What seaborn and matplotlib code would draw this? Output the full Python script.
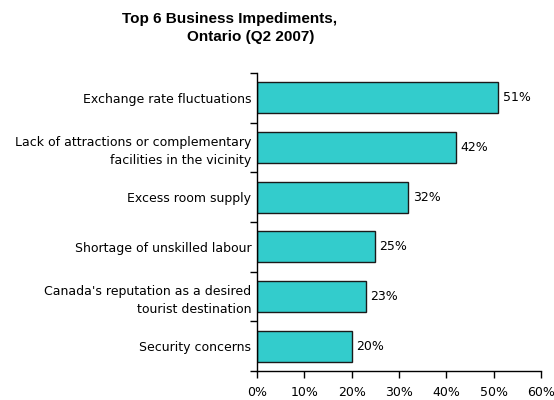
import matplotlib
matplotlib.use("Agg")
import matplotlib.pyplot as plt
import seaborn as sns
import pandas as pd
import numpy as np

categories = [
    "Exchange rate fluctuations",
    "Lack of attractions or complementary\nfacilities in the vicinity",
    "Excess room supply",
    "Shortage of unskilled labour",
    "Canada's reputation as a desired\ntourist destination",
    "Security concerns",
]
values = [51, 42, 32, 25, 23, 20]
xticks = [0, 10, 20, 30, 40, 50, 60]
xtick_labels = ["0%", "10%", "20%", "30%", "40%", "50%", "60%"]

sns.set_style("white")
plt.rcParams['font.family'] = ['DejaVu Sans']
plt.rcParams['text.color'] = 'black'
plt.rcParams['xtick.color'] = 'black'
plt.rcParams['ytick.color'] = 'black'

df = pd.DataFrame({"cat": categories, "val": values})

fig = plt.figure(figsize=(5.54, 4.0), dpi=100)
ax = fig.add_axes([257/554, 29/400, 284/554, 298/400])

sns.barplot(data=df, y="cat", x="val", orient="h", color="#33CCCC",
            edgecolor="#1a1a1a", linewidth=1.0, width=0.62, ax=ax, saturation=1)

ax.set_xlim(0, 60)
ax.set_ylim(5.5, -0.5)
ax.set_xlabel("")
ax.set_ylabel("")
ax.set_xticks(xticks)
ax.set_xticklabels(xtick_labels, fontsize=9)
ax.set_yticks(range(len(categories)))
ax.set_yticklabels(categories, fontsize=9, ha="right", linespacing=1.5)
ax.tick_params(axis="y", which="major", left=True, length=0, pad=4)
ax.set_yticks(np.arange(-0.5, 6.0, 1.0), minor=True)
ax.tick_params(axis="y", which="minor", left=True, length=5, width=1,
               color="black", direction="out")
ax.tick_params(axis="x", which="major", bottom=True, length=5, width=1,
               color="black", direction="out", pad=6)

for s in ["top", "right"]:
    ax.spines[s].set_visible(False)
for s in ["left", "bottom"]:
    ax.spines[s].set_color("black")
    ax.spines[s].set_linewidth(1.0)

for i, v in enumerate(values):
    ax.text(v + 0.9, i, f"{v}%", va="center", ha="left", fontsize=9, color="black")

fig.text(230/554, 1 - 19/400, "Top 6 Business Impediments,", ha="center", va="center",
         fontsize=11, fontweight="bold", family=["Liberation Sans"], color="black")
fig.text(251/554, 1 - 37/400, "Ontario (Q2 2007)", ha="center", va="center",
         fontsize=11, fontweight="bold", family=["Liberation Sans"], color="black")

fig.savefig("out.png", dpi=100)
